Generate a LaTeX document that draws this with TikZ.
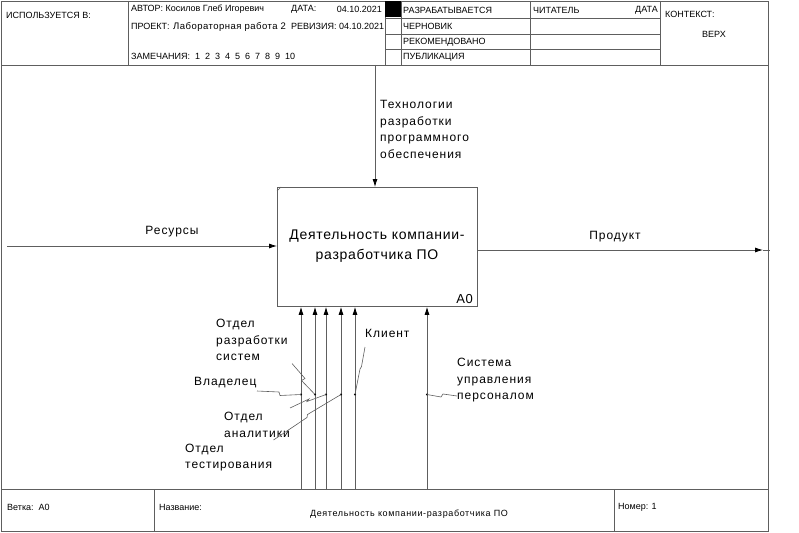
\documentclass[tikz,border=0pt]{standalone}
\usepackage{fontspec}
\setmainfont{Liberation Sans}
\newfontfamily\wide[LetterSpace=8]{Liberation Sans}
\newfontfamily\boxfont[LetterSpace=5]{Liberation Sans}
\newfontfamily\titlefont[LetterSpace=7]{Liberation Sans}
\usetikzlibrary{arrows.meta}
\definecolor{linegray}{HTML}{5E5E5E}

\begin{document}
\begin{tikzpicture}[x=1pt,y=-1pt,
  frameline/.style={draw=linegray, line width=0.8pt},
  arr/.style={draw=linegray, line width=0.8pt, -{Latex[length=8pt,width=5pt,color=black]}},
  lead/.style={draw=linegray, line width=0.6pt},
  hdr/.style={font=\fontsize{9}{11}\selectfont, inner sep=0, anchor=west},
  lbl/.style={font=\wide\fontsize{12}{16.5}\selectfont, inner sep=0, align=left, anchor=west},
  dotmark/.style={fill=black}
]
\useasboundingbox (0,0) rectangle (799,532);

% ---------- frame ----------
\draw[frameline] (1,1) rectangle (768,531);
\draw[frameline] (1,65) -- (768,65);
\draw[frameline] (1,489) -- (768,489);
\foreach \x in {128,385,401,530,660} \draw[frameline] (\x,1) -- (\x,65);
\foreach \y in {18,34,49} \draw[frameline] (385,\y) -- (660,\y);
\fill[black] (385,1) rectangle (401,17);
\foreach \x in {154,614} \draw[frameline] (\x,489) -- (\x,531);

% ---------- header texts ----------
\node[hdr] (usedin) at (6,15) {ИСПОЛЬЗУЕТСЯ В:};
\node[hdr] (author) at (131,9) {АВТОР: Косилов Глеб Игоревич};
\node[hdr] (date) at (291,9) {ДАТА:};
\node[hdr, anchor=east] (dateval) at (382,9) {04.10.2021};
\node[hdr] (project) at (131,26) {ПРОЕКТ:};
\node[hdr, font=\boxfont\fontsize{9.5}{11}\selectfont] (projname) at (173,27) {Лабораторная работа 2};
\node[hdr] (revision) at (291,26) {РЕВИЗИЯ: 04.10.2021};
\node[hdr] (notes) at (131,56) {ЗАМЕЧАНИЯ:\ \ 1\ \ 2\ \ 3\ \ 4\ \ 5\ \ 6\ \ 7\ \ 8\ \ 9\ \ 10};
\node[hdr] (working) at (403,10) {РАЗРАБАТЫВАЕТСЯ};
\node[hdr] (draft) at (403,26) {ЧЕРНОВИК};
\node[hdr] (recommended) at (403,42) {РЕКОМЕНДОВАНО};
\node[hdr] (publication) at (403,57) {ПУБЛИКАЦИЯ};
\node[hdr] (reader) at (533,10) {ЧИТАТЕЛЬ};
\node[hdr, anchor=east] (readerdate) at (658,10) {ДАТА};
\node[hdr] (context) at (665,14) {КОНТЕКСТ:};
\node[hdr, anchor=center] (top) at (714,34) {ВЕРХ};

% ---------- footer texts ----------
\node[hdr] (node) at (7,507) {Ветка:\ \ А0};
\node[hdr] (titlelabel) at (159,507) {Название:};
\node[font=\titlefont\fontsize{9}{11}\selectfont, inner sep=0] (title) at (409,514) {Деятельность компании-разработчика ПО};
\node[hdr] (number) at (618,507) {Номер: 1};

% ---------- activity box ----------
\node[draw=linegray, line width=0.8pt, minimum width=200pt, minimum height=119pt,
      anchor=north west, inner sep=0] (A0) at (277,187) {};
\draw[lead] ([yshift=-4pt]A0.north west) -- ([xshift=4pt]A0.north west);
\node[font=\boxfont\fontsize{14}{20}\selectfont, align=center, inner sep=0] (A0text) at (377,246)
  {Деятельность компании-\\разработчика ПО};
\node[font=\boxfont\fontsize{13}{15}\selectfont, inner sep=0, anchor=south east] (A0num) at (473,304) {А0};

% ---------- control ----------
\coordinate (ctlsrc) at (375,65);
\draw[arr] (ctlsrc) -- (ctlsrc |- A0.north);
\node[lbl] (ctllbl) at (380,129.5) {Технологии\\разработки\\программного\\обеспечения};

% ---------- input ----------
\coordinate (insrc) at (7,246);
\draw[arr] (insrc) -- (insrc -| A0.west);
\node[lbl, anchor=center] (inlbl) at (172,232) {Ресурсы};

% ---------- output ----------
\coordinate (outtip) at (763,250);
\coordinate (outend) at (770,250);
\draw[arr] (outtip -| A0.east) -- (outtip);
\draw[frameline] (outtip) -- (outend);
\node[lbl, anchor=center] (outlbl) at (615,237) {Продукт};

% ---------- mechanisms ----------
\foreach \n/\x in {m1/301,m2/315,m3/326,m4/341,m5/355,m6/427} {
  \coordinate (\n) at (\x,489);
  \draw[arr] (\n) -- (\n |- A0.south);
}
\foreach \n/\x in {d1/301,d2/315,d3/326,d4/341,d5/355,d6/427} {
  \coordinate (\n) at (\x,394.5);
  \fill[dotmark] (\n) circle (1.2pt);
}

\node[lbl] (owner) at (194,383) {Владелец};
\node[lbl] (devdept) at (216,340) {Отдел\\разработки\\систем};
\node[lbl] (anadept) at (224,425) {Отдел\\аналитики};
\node[lbl] (testdept) at (185,457.5) {Отдел\\тестирования};
\node[lbl] (client) at (365,333) {Клиент};
\node[lbl] (hrsys) at (457,380.5) {Система\\управления\\персоналом};

% squiggle leaders from labels to their arrows
\draw[lead] (257,391) -- (279,392) -- (280,395.5) -- (d1);
\draw[lead] (292,363.5) -- (305,378.5) -- (301.5,380.5) -- (d2);
\draw[lead] (290,408) -- (309,399) -- (307,401.5) -- (d3);
\draw[lead] (273.5,440) -- (307,417.5) -- (307.5,414.5) -- (d4);
\draw[lead] (365,347) -- (361.5,366.5) -- (360,369) -- (d5);
\draw[lead] (457,396) -- (443,394) -- (441,397) -- (d6);

\end{tikzpicture}
\end{document}
